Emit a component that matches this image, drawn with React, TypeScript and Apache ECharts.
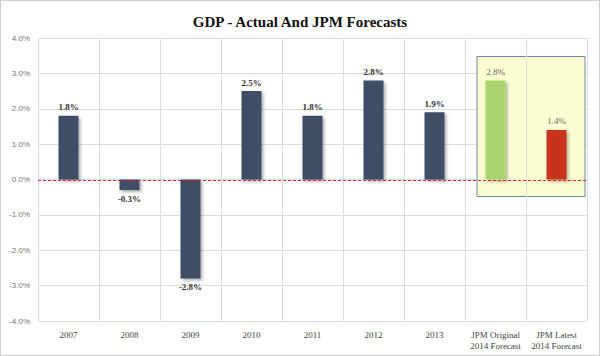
import React, { useEffect, useRef } from "react";
import * as echarts from "echarts";

const categories = ["2007", "2008", "2009", "2010", "2011", "2012", "2013", "JPM Original\n2014 Forecast", "JPM Latest\n2014 Forecast"];
const values = [1.8, -0.3, -2.8, 2.5, 1.8, 2.8, 1.9, 2.8, 1.4];
const barColors = ["#3f4d66", "#3f4d66", "#3f4d66", "#3f4d66", "#3f4d66", "#3f4d66", "#3f4d66", "#a8d36e", "#c9301a"];
const isForecast = [false, false, false, false, false, false, false, true, true];
const title = "GDP - Actual And JPM Forecasts";

export default function App() {
  const ref = useRef<HTMLDivElement>(null);
  useEffect(() => {
    if (!ref.current) return;
    const chart = echarts.init(ref.current, null, { renderer: "svg" });
    const data = values.map((v, i) => ({
      value: v,
      itemStyle: {
        color: barColors[i],
        shadowColor: "rgba(0,0,0,0.3)",
        shadowBlur: 3,
        shadowOffsetX: 2,
        shadowOffsetY: 2,
      },
      label: {
        position: v < 0 ? "bottom" : "top",
        fontWeight: isForecast[i] ? "normal" : "bold",
        color: isForecast[i] ? "#666" : "#333",
      },
    }));
    const gridLeft = 37;
    const gridRight = 12;
    chart.setOption({
      animation: false,
      backgroundColor: "#fff",
      title: {
        text: title,
        left: "center",
        top: 8,
        textStyle: { fontFamily: "Liberation Serif", fontSize: 15, fontWeight: "bold", color: "#111" },
      },
      grid: { left: gridLeft, right: gridRight, top: 37, bottom: 34 },
      xAxis: {
        type: "category",
        data: categories,
        boundaryGap: true,
        axisLine: { show: false },
        axisTick: { show: false },
        splitLine: { show: true, lineStyle: { color: "#dcdcdc", width: 1 } },
        axisLabel: { fontFamily: "Liberation Serif", fontSize: 9, color: "#444", lineHeight: 11, margin: 8, interval: 0 },
        z: 1,
      },
      yAxis: {
        type: "value",
        min: -4,
        max: 4,
        interval: 1,
        axisLine: { show: false },
        axisTick: { show: false },
        splitLine: { lineStyle: { color: "#dcdcdc", width: 1 } },
        axisLabel: {
          fontFamily: "Liberation Sans",
          fontSize: 8,
          color: "#777",
          margin: 8,
          formatter: (v: number) => v.toFixed(1) + "%",
        },
      },
      series: [
        {
          type: "bar",
          data,
          barWidth: 20,
          z: 3,
          label: {
            show: true,
            fontFamily: "Liberation Serif",
            fontSize: 9,
            distance: 4,
            formatter: (p: any) => p.value.toFixed(1) + "%",
          },
        },
      ],
    });
    const y0 = chart.convertToPixel({ yAxisIndex: 0 }, 0) as number;
    const yTop = chart.convertToPixel({ yAxisIndex: 0 }, 3.5) as number;
    const yBot = chart.convertToPixel({ yAxisIndex: 0 }, -0.45) as number;
    const w = chart.getWidth();
    chart.setOption({
      graphic: [
        {
          type: "rect",
          z: 0,
          zlevel: 0,
          shape: { x: 476, y: Math.round(yTop) + 0.5, width: 108, height: Math.round(yBot - yTop) },
          style: { fill: "#fdfdd2", stroke: "#6d8aa3", lineWidth: 1 },
        },
        {
          type: "line",
          z: 100,
          shape: { x1: gridLeft, y1: Math.round(y0) + 0.5, x2: w - gridRight, y2: Math.round(y0) + 0.5 },
          style: { stroke: "#e8242a", lineWidth: 1, lineDash: [3, 2] },
        },
      ],
    });
    return () => chart.dispose();
  }, []);
  return (
    <div
      ref={ref}
      style={{ width: 598, height: 354, border: "1px solid #d0d0d0", position: "absolute", left: 0, top: 0 }}
    />
  );
}
